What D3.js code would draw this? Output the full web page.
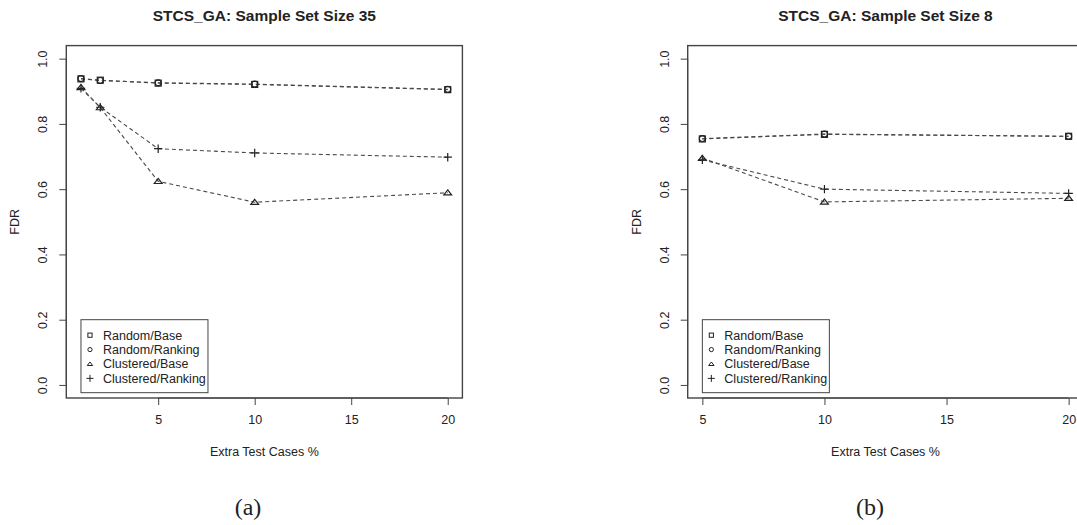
<!DOCTYPE html>
<html>
<head>
<meta charset="utf-8">
<script src="https://cdn.jsdelivr.net/npm/d3@7"></script>
<style>
  body { margin: 0; background: #fff; }
  svg text { font-family: "Liberation Sans", Arial, sans-serif; fill: #222; }
</style>
</head>
<body>
<div></div>
<script>
// ---- data ----
var seriesNames = ["Random/Base", "Random/Ranking", "Clustered/Base", "Clustered/Ranking"];
var shapes = ["square", "circle", "triangle", "plus"];

var xA = [1, 2, 5, 10, 20];
var randomBaseA = [0.938, 0.934, 0.925, 0.921, 0.905];
var randomRankA = [0.939, 0.933, 0.926, 0.922, 0.906];
var clustBaseA = [0.912, 0.850, 0.624, 0.560, 0.589];
var clustRankA = [0.909, 0.851, 0.724, 0.711, 0.698];

var xB = [5, 10, 20];
var randomBaseB = [0.754, 0.768, 0.762];
var randomRankB = [0.755, 0.769, 0.762];
var clustBaseB = [0.695, 0.561, 0.572];
var clustRankB = [0.690, 0.600, 0.587];

var yTicks = [0, 0.2, 0.4, 0.6, 0.8, 1.0];
var xTicks = [5, 10, 15, 20];

var width = 1077, height = 525;
var svg = d3.select("body").select("div").append("svg")
  .attr("width", width).attr("height", height);

var lineColor = "#4a4a4a", markColor = "#222", boxColor = "#444";

function symbol(g, shape, cx, cy, s) {
  // s = half size
  if (shape == "square") {
    g.append("rect").attr("x", cx - s).attr("y", cy - s)
      .attr("width", 2 * s).attr("height", 2 * s);
  } else if (shape == "circle") {
    g.append("circle").attr("cx", cx).attr("cy", cy).attr("r", s);
  } else if (shape == "triangle") {
    var h = s * 1.6;
    g.append("path").attr("d",
      "M" + cx + "," + (cy - h * 0.6) +
      "L" + (cx + s * 1.3) + "," + (cy + h * 0.45) +
      "L" + (cx - s * 1.3) + "," + (cy + h * 0.45) + "Z");
  } else {
    g.append("path").attr("d",
      "M" + (cx - s * 1.4) + "," + cy + "H" + (cx + s * 1.4) +
      "M" + cx + "," + (cy - s * 1.4) + "V" + (cy + s * 1.4));
  }
}

function panel(opts) {
  var x = d3.scaleLinear().domain(opts.xDomain).range(opts.xRange);
  var y = d3.scaleLinear().domain([-0.04, 1.04]).range([398, 45.6]);
  var g = svg.append("g");

  // plot box
  g.append("rect")
    .attr("x", opts.xRange[0]).attr("y", y(1.04))
    .attr("width", opts.xRange[1] - opts.xRange[0])
    .attr("height", y(-0.04) - y(1.04))
    .attr("fill", "none").attr("stroke", boxColor).attr("stroke-width", 1.4);

  // y axis
  var yAxis = d3.axisLeft(y).tickValues(yTicks).tickSize(7).tickFormat(d3.format(".1f"));
  var ya = g.append("g").attr("transform", "translate(" + opts.xRange[0] + ",0)").call(yAxis);
  ya.select(".domain").attr("d", "M0," + y(0) + "V" + y(1)).attr("stroke", boxColor);
  ya.selectAll(".tick line").attr("stroke", boxColor);
  ya.selectAll(".tick text")
    .attr("x", 0).attr("dy", null).attr("y", 0)
    .attr("transform", "translate(-19,0) rotate(-90)")
    .attr("text-anchor", "middle")
    .style("font-size", "12.5px").attr("fill", "#222");

  // x axis
  var xAxis = d3.axisBottom(x).tickValues(xTicks).tickSize(7);
  var xa = g.append("g").attr("transform", "translate(0," + y(-0.04) + ")").call(xAxis);
  xa.select(".domain").attr("d", "M" + x(xTicks[0]) + ",0H" + x(xTicks[xTicks.length - 1])).attr("stroke", boxColor);
  xa.selectAll(".tick line").attr("stroke", boxColor);
  xa.selectAll(".tick text").attr("y", 17).style("font-size", "12.5px").attr("fill", "#222");

  var cx = (opts.xRange[0] + opts.xRange[1]) / 2;
  g.append("text").attr("x", cx).attr("y", 21).attr("text-anchor", "middle")
    .style("font-size", "15.5px").style("font-weight", "bold").text(opts.title);
  g.append("text").attr("x", cx).attr("y", 456).attr("text-anchor", "middle")
    .style("font-size", "12.5px").text("Extra Test Cases %");
  g.append("text").attr("transform", "translate(" + (opts.xRange[0] - 47) + "," + y(0.5) + ") rotate(-90)")
    .attr("text-anchor", "middle").style("font-size", "12.5px").text("FDR");
  g.append("text").attr("x", opts.captionX).attr("y", 515).attr("text-anchor", "middle")
    .style("font-family", "'Liberation Serif', 'Times New Roman', serif")
    .style("font-size", "24px").text(opts.caption);

  var line = d3.line().x(function(d) { return x(d.x); }).y(function(d) { return y(d.v); });

  opts.series.forEach(function(vals, i) {
    var pts = vals.map(function(v, j) { return { x: opts.xs[j], v: v }; });
    g.append("path").attr("d", line(pts))
      .attr("fill", "none").attr("stroke", lineColor)
      .attr("stroke-width", 1.1).attr("stroke-dasharray", "4,3");
    var mg = g.append("g").attr("fill", "none").attr("stroke", markColor).attr("stroke-width", 1.2);
    pts.forEach(function(p) {
      symbol(mg, shapes[i], x(p.x), y(p.v), 3);
    });
  });

  // legend, top-left corner at (first x, 0.2)
  var lx = x(opts.xs[0]), ly = y(0.2);
  var lg = g.append("g");
  lg.append("rect").attr("x", lx).attr("y", ly).attr("width", 127).attr("height", 73)
    .attr("fill", "#fff").attr("stroke", boxColor).attr("stroke-width", 1);
  seriesNames.forEach(function(name, i) {
    var yy = ly + 15.5 + i * 14.4;
    var sg = lg.append("g").attr("fill", "none").attr("stroke", markColor).attr("stroke-width", 1);
    symbol(sg, shapes[i], lx + 9, yy, i == 3 ? 2.5 : 2.1);
    lg.append("text").attr("x", lx + 22).attr("y", yy + 4.5)
      .style("font-size", "12.5px").text(name);
  });
}

panel({
  title: "STCS_GA: Sample Set Size 35",
  caption: "(a)",
  captionX: 248,
  xs: xA,
  xDomain: [0.24, 20.76],
  xRange: [66.3, 462.4],
  series: [randomBaseA, randomRankA, clustBaseA, clustRankA]
});

panel({
  title: "STCS_GA: Sample Set Size 8",
  caption: "(b)",
  captionX: 870,
  xs: xB,
  xDomain: [4.4, 20.6],
  xRange: [687.7, 1083.3],
  series: [randomBaseB, randomRankB, clustBaseB, clustRankB]
});
</script>
</body>
</html>
